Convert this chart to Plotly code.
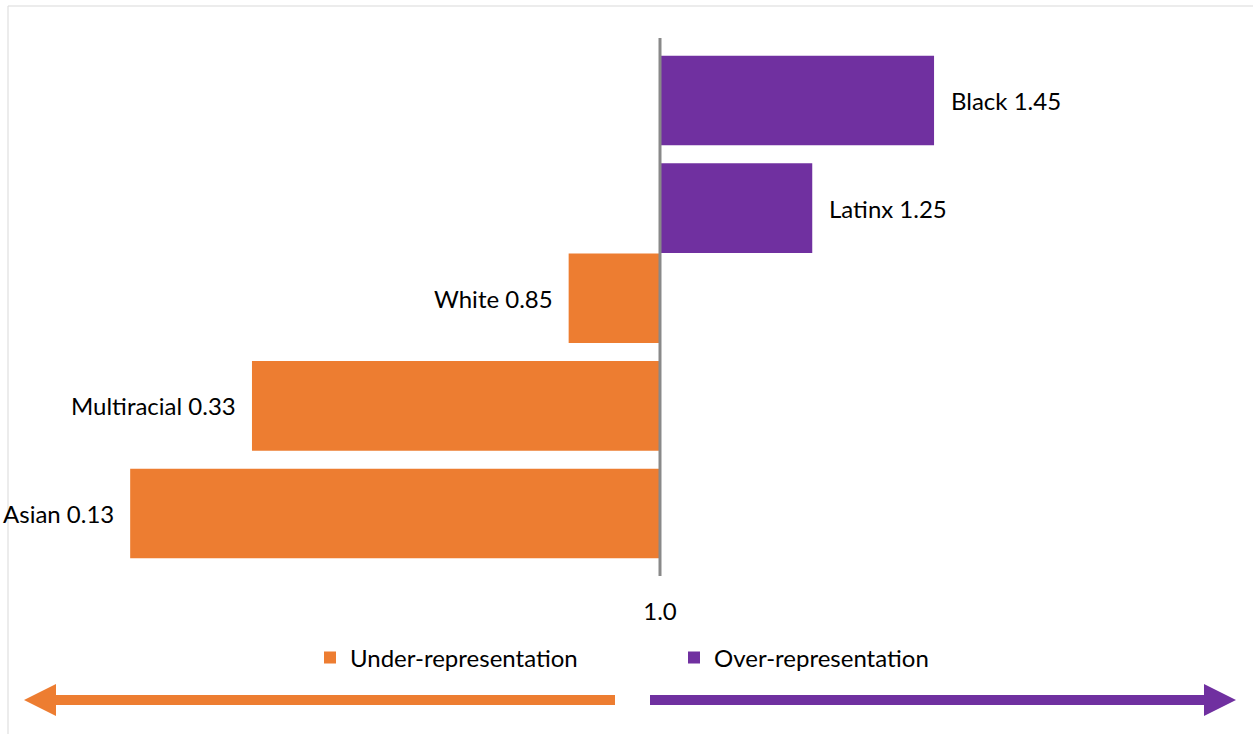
import plotly.graph_objects as go

# ---- data ----
categories = ["Black", "Latinx", "White", "Multiracial", "Asian"]
over_groups = ["Black", "Latinx"]
over_values = [1.45, 1.25]
under_groups = ["White", "Multiracial", "Asian"]
under_values = [0.85, 0.33, 0.13]
baseline = 1.0
x_tick_vals = [1.0]
x_tick_text = ["1.0"]
series_names = ["Under-representation", "Over-representation"]

ORANGE = "#ED7D31"
PURPLE = "#7030A0"
FONT = "Lato"
FS = 24

W, H = 1253, 734
ML, MR, MT, MB = 51, 0, 38, 158
PW = W - ML - MR
PH = H - MT - MB
PX_PER_UNIT = 609.0
x_min = baseline - (660 - ML) / PX_PER_UNIT
x_max = x_min + PW / PX_PER_UNIT

def px_x(px):
    return (px - ML) / PW

def px_y(py):
    return (H - MB - py) / PH

bar_w = 0.833
shift = 0.0814

fig = go.Figure()
fig.add_trace(go.Bar(
    name=series_names[0], orientation="h",
    y=under_groups, x=[v - baseline for v in under_values], base=baseline,
    marker=dict(color=ORANGE, line=dict(width=0)),
    width=bar_w, offset=-shift - bar_w / 2,
    hovertemplate="%{y}: %{customdata}<extra></extra>", customdata=under_values,
))
fig.add_trace(go.Bar(
    name=series_names[1], orientation="h",
    y=over_groups, x=[v - baseline for v in over_values], base=baseline,
    marker=dict(color=PURPLE, line=dict(width=0)),
    width=bar_w, offset=shift - bar_w / 2,
    hovertemplate="%{y}: %{customdata}<extra></extra>", customdata=over_values,
))

# data labels
for g, v in zip(over_groups, over_values):
    fig.add_annotation(x=v, y=g, text=f"{g} {v:.2f}", showarrow=False,
                       xanchor="left", xshift=15, yshift=-8.75,
                       font=dict(family=FONT, size=FS, color="#000000"))
for g, v in zip(under_groups, under_values):
    fig.add_annotation(x=v, y=g, text=f"{g} {v:.2f}", showarrow=False,
                       xanchor="right", xshift=-14, yshift=8.75,
                       font=dict(family=FONT, size=FS, color="#000000"))

shapes = []
# vertical axis line at baseline
shapes.append(dict(type="line", xref="x", yref="paper", x0=baseline, x1=baseline,
                   y0=0, y1=1, line=dict(color="#898989", width=3), layer="above"))
# chart frame
shapes.append(dict(type="rect", xref="paper", yref="paper",
                   x0=px_x(8), x1=px_x(1300), y0=px_y(6), y1=px_y(800),
                   line=dict(color="#D9D9D9", width=1), fillcolor="rgba(0,0,0,0)", layer="below"))

def arrow_path(x_tail, x_base, x_tip, yc, half_shaft, half_head):
    pts = [
        (x_tail, yc - half_shaft), (x_base, yc - half_shaft), (x_base, yc - half_head),
        (x_tip, yc), (x_base, yc + half_head), (x_base, yc + half_shaft), (x_tail, yc + half_shaft),
    ]
    d = "M " + " L ".join(f"{px_x(a):.5f},{px_y(b):.5f}" for a, b in pts) + " Z"
    return d

shapes.append(dict(type="path", xref="paper", yref="paper",
                   path=arrow_path(615, 56, 24, 700, 5, 16),
                   fillcolor=ORANGE, line=dict(width=0)))
shapes.append(dict(type="path", xref="paper", yref="paper",
                   path=arrow_path(650, 1204, 1236, 700, 5, 16),
                   fillcolor=PURPLE, line=dict(width=0)))

fig.update_layout(
    width=W, height=H,
    margin=dict(l=ML, r=MR, t=MT, b=MB, pad=0),
    paper_bgcolor="white", plot_bgcolor="white",
    barmode="overlay",
    font=dict(family=FONT, size=FS, color="#000000"),
    showlegend=True,
    legend=dict(orientation="h", x=px_x(310), xanchor="left",
                y=px_y(658), yanchor="middle",
                entrywidth=319, entrywidthmode="pixels",
                font=dict(family=FONT, size=FS, color="#000000"),
                bgcolor="rgba(0,0,0,0)", traceorder="normal"),
    xaxis=dict(range=[x_min, x_max], tickvals=x_tick_vals, ticktext=x_tick_text,
               showgrid=False, zeroline=False, showline=False, ticks="",
               ticklabelstandoff=19, tickfont=dict(family=FONT, size=FS, color="#000000"),
               fixedrange=True),
    yaxis=dict(type="category", categoryorder="array", categoryarray=categories,
               range=[len(categories) - 0.5, -0.5], showticklabels=False,
               showgrid=False, zeroline=False, showline=False, ticks="", fixedrange=True),
    shapes=shapes,
)

fig.write_html("out.html", config={"displayModeBar": False},
               post_script="document.body.style.margin='0';document.body.style.overflow='hidden';")
